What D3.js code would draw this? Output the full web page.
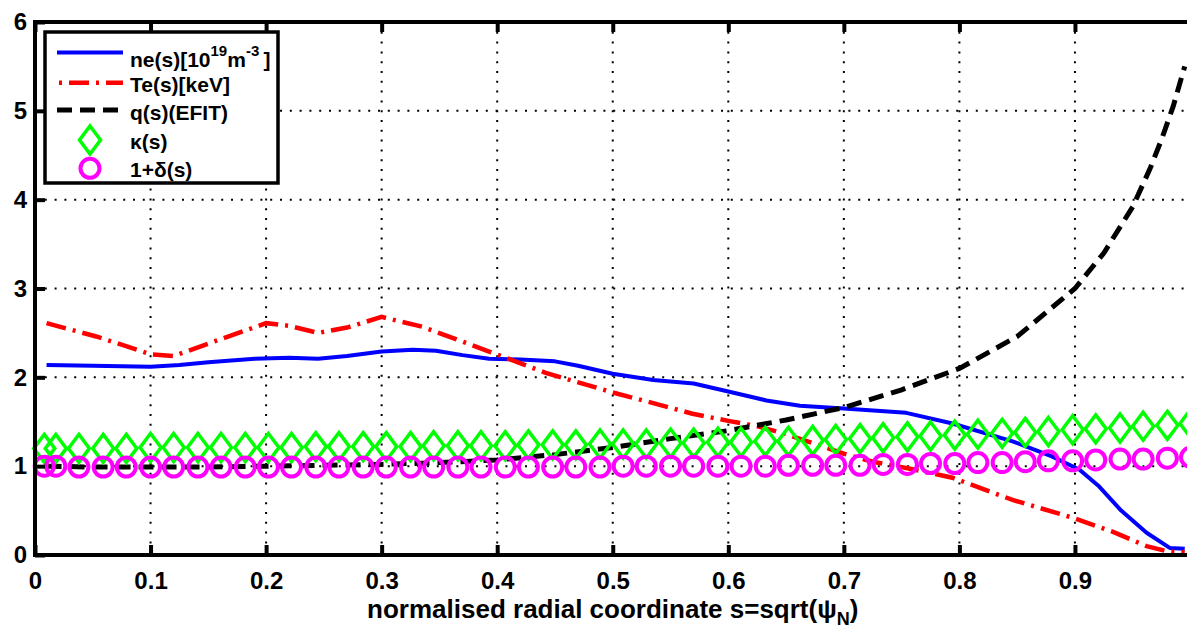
<!DOCTYPE html>
<html><head><meta charset="utf-8">
<script src="https://cdn.jsdelivr.net/npm/d3@7"></script>
<style>
body{margin:0;background:#fff}
text{font-family:"Liberation Sans",Arial,Helvetica,sans-serif;font-weight:bold;fill:#000}
</style>
</head><body>
<svg id="c" width="1187" height="632"></svg>
<script>
// ---- data ----
const xTicks = [0,0.1,0.2,0.3,0.4,0.5,0.6,0.7,0.8,0.9];
const xTickLabels = ["0","0.1","0.2","0.3","0.4","0.5","0.6","0.7","0.8","0.9"];
const yTicks = [0,1,2,3,4,5,6];
const yTickLabels = ["0","1","2","3","4","5","6"];

const neS = [0.01,0.05,0.1,0.125,0.15,0.19,0.22,0.245,0.27,0.3,0.327,0.347,0.37,0.393,0.42,0.45,0.47,0.5,0.535,0.57,0.6,0.633,0.662,0.7,0.754,0.794,0.846,0.88,0.904,0.921,0.94,0.962,0.982,0.995];
const neV = [2.14,2.13,2.12,2.14,2.17,2.21,2.22,2.21,2.24,2.29,2.31,2.30,2.25,2.21,2.20,2.18,2.13,2.04,1.97,1.93,1.84,1.74,1.68,1.65,1.60,1.48,1.28,1.11,0.96,0.77,0.50,0.25,0.08,0.07];

const teS = [0.01,0.053,0.1,0.12,0.15,0.2,0.22,0.245,0.27,0.3,0.335,0.36,0.393,0.442,0.5,0.535,0.569,0.6,0.625,0.65,0.675,0.7,0.725,0.754,0.794,0.846,0.898,0.933,0.962,0.98,0.995];
const teV = [2.61,2.46,2.26,2.24,2.38,2.61,2.58,2.50,2.56,2.68,2.57,2.45,2.29,2.05,1.83,1.71,1.59,1.51,1.45,1.36,1.25,1.14,1.05,0.98,0.87,0.62,0.42,0.26,0.10,0.04,0.03];

const qS = [0.01,0.05,0.1,0.15,0.2,0.25,0.3,0.35,0.4,0.45,0.5,0.55,0.6,0.65,0.7,0.75,0.8,0.85,0.9,0.925,0.95,0.965,0.975,0.985,0.995];
const qV = [1.00,0.99,0.99,0.99,1.00,1.01,1.02,1.04,1.07,1.13,1.21,1.31,1.40,1.52,1.66,1.86,2.10,2.46,3.00,3.40,3.92,4.35,4.68,5.05,5.50];

const markS = [0.008,0.018,0.038,0.059,0.079,0.100,0.120,0.141,0.161,0.182,0.202,0.222,0.243,0.263,0.284,0.304,0.325,0.345,0.366,0.386,0.407,0.427,0.448,0.468,0.489,0.509,0.529,0.550,0.570,0.591,0.611,0.632,0.652,0.673,0.693,0.714,0.734,0.755,0.775,0.796,0.816,0.837,0.857,0.877,0.898,0.918,0.939,0.959,0.980,1.000];
const kappaV = [1.20,1.20,1.20,1.20,1.20,1.21,1.21,1.21,1.21,1.21,1.21,1.21,1.22,1.22,1.22,1.22,1.22,1.23,1.23,1.23,1.23,1.24,1.24,1.24,1.25,1.25,1.25,1.26,1.26,1.27,1.27,1.28,1.28,1.29,1.30,1.31,1.32,1.33,1.34,1.35,1.36,1.37,1.38,1.39,1.41,1.42,1.43,1.45,1.46,1.48];
const deltaV = [1.00,1.00,0.99,0.99,0.99,0.99,0.99,0.99,0.99,0.99,0.99,0.99,0.99,0.99,0.99,0.99,0.99,0.99,0.99,0.99,0.99,0.99,0.99,0.99,0.99,1.00,1.00,1.00,1.00,1.00,1.00,1.00,1.01,1.01,1.01,1.01,1.02,1.02,1.03,1.03,1.04,1.04,1.05,1.06,1.06,1.07,1.08,1.08,1.09,1.10];

// ---- layout ----
const svg = d3.select("#c");
const L = 35, R = 1190.5, T = 22, B = 555;
const x = d3.scaleLinear().domain([0,1]).range([L,R]);
const y = d3.scaleLinear().domain([0,6]).range([B,T]);

// grid
const grid = svg.append("g");
grid.selectAll(".vg").data(xTicks.filter(d=>d>0)).enter().append("line")
  .attr("x1",d=>x(d)).attr("x2",d=>x(d)).attr("y1",T).attr("y2",B)
  .attr("stroke","#000").attr("stroke-width",2).attr("stroke-dasharray","2,7.8");
grid.selectAll(".hg").data(yTicks.filter(d=>d>0&&d<6)).enter().append("line")
  .attr("y1",d=>y(d)).attr("y2",d=>y(d)).attr("x1",L).attr("x2",R)
  .attr("stroke","#000").attr("stroke-width",2).attr("stroke-dasharray","2,7.8");

// lines
const line = d3.line().x(d=>x(d[0])).y(d=>y(d[1]));
const zip = (a,b)=>a.map((v,i)=>[v,b[i]]);
const plot = svg.append("g");
plot.append("path").attr("d",line(zip(neS,neV))).attr("fill","none")
  .attr("stroke","#0000ff").attr("stroke-width",4).attr("stroke-linejoin","round");
plot.append("path").attr("d",line(zip(teS,teV))).attr("fill","none")
  .attr("stroke","#ff0000").attr("stroke-width",4.5).attr("stroke-dasharray","20,7,3,7");
plot.append("path").attr("d",line(zip(qS,qV))).attr("fill","none")
  .attr("stroke","#000").attr("stroke-width",5).attr("stroke-dasharray","15,8");

const diamond = "M0,-14L10.5,0L0,14L-10.5,0Z";
plot.selectAll(".kap").data(zip(markS,kappaV)).enter().append("path")
  .attr("d",diamond).attr("transform",d=>`translate(${x(d[0])},${y(d[1])})`)
  .attr("fill","none").attr("stroke","#00ff00").attr("stroke-width",3.5);
plot.selectAll(".del").data(zip(markS,deltaV)).enter().append("circle")
  .attr("cx",d=>x(d[0])).attr("cy",d=>y(d[1])).attr("r",9.5)
  .attr("fill","none").attr("stroke","#ff00ff").attr("stroke-width",4);

// axes
const xa = svg.append("g").attr("transform",`translate(0,${B})`)
  .call(d3.axisBottom(x).tickValues(xTicks).tickFormat((d,i)=>xTickLabels[i]).tickSize(-10).tickSizeOuter(0).tickPadding(17));
const xt = svg.append("g").attr("transform",`translate(0,${T})`)
  .call(d3.axisTop(x).tickValues(xTicks).tickFormat("").tickSize(-10).tickSizeOuter(0));
const ya = svg.append("g").attr("transform",`translate(${L},0)`)
  .call(d3.axisLeft(y).tickValues(yTicks).tickFormat((d,i)=>yTickLabels[i]).tickSize(-10).tickSizeOuter(0).tickPadding(8));
[xa,xt,ya].forEach(g=>{
  g.select(".domain").attr("stroke","#000").attr("stroke-width",4);
  g.selectAll(".tick line").attr("stroke","#000").attr("stroke-width",4);
  g.selectAll(".tick text").style("font-size","24px").style("font-family","'Liberation Sans',Arial,sans-serif").style("font-weight","bold").attr("fill","#000");
});
xa.select(".domain").attr("d",`M${L-2},0H1187`);
xt.select(".domain").attr("d",`M${L-2},0H1187`);
ya.select(".domain").attr("d",`M0,${B+2}V${T-2}`);

// x title
const xtitle = svg.append("text").attr("x",(L+R)/2).attr("y",618).attr("text-anchor","middle").style("font-size","26px");
xtitle.append("tspan").text("normalised radial coordinate s=sqrt(\u03C8");
xtitle.append("tspan").attr("dy",7).style("font-size","18px").text("N");
xtitle.append("tspan").attr("dy",-7).text(")");

// legend
const lg = svg.append("g");
lg.append("rect").attr("x",45).attr("y",32).attr("width",233).attr("height",151)
  .attr("fill","#fff").attr("stroke","#000").attr("stroke-width",3.5);
const ly = [52.5,82.7,110,140,168.3];
const lb = [66.5,91.7,120,148.5,176.7];
lg.append("line").attr("x1",57).attr("x2",123).attr("y1",ly[0]).attr("y2",ly[0]).attr("stroke","#0000ff").attr("stroke-width",4);
lg.append("line").attr("x1",57).attr("x2",123).attr("y1",ly[1]).attr("y2",ly[1]).attr("stroke","#ff0000").attr("stroke-width",4.5).attr("stroke-dasharray","3,7,20,7").attr("stroke-dashoffset",-2);
lg.append("line").attr("x1",57).attr("x2",123).attr("y1",ly[2]).attr("y2",ly[2]).attr("stroke","#000").attr("stroke-width",5).attr("stroke-dasharray","15,8");
lg.append("path").attr("d",diamond).attr("transform",`translate(90,${ly[3]})`).attr("fill","none").attr("stroke","#00ff00").attr("stroke-width",3.5);
lg.append("circle").attr("cx",90).attr("cy",ly[4]).attr("r",9.5).attr("fill","none").attr("stroke","#ff00ff").attr("stroke-width",4);
const fs = "21px", sfs = "15px";
const t0 = lg.append("text").attr("x",130).attr("y",lb[0]).style("font-size",fs);
t0.append("tspan").text("ne(s)[10");
t0.append("tspan").attr("dy",-11).style("font-size",sfs).text("19");
t0.append("tspan").attr("dy",11).text("m");
t0.append("tspan").attr("dy",-11).style("font-size",sfs).text("-3");
t0.append("tspan").attr("dy",11).text("\u2009]");
lg.append("text").attr("x",130).attr("y",lb[1]).style("font-size",fs).text("Te(s)[keV]");
lg.append("text").attr("x",130).attr("y",lb[2]).style("font-size",fs).text("q(s)(EFIT)");
lg.append("text").attr("x",130).attr("y",lb[3]).style("font-size",fs).text("\u03BA(s)");
lg.append("text").attr("x",130).attr("y",lb[4]).style("font-size",fs).text("1+\u03B4(s)");
</script>
</body></html>
